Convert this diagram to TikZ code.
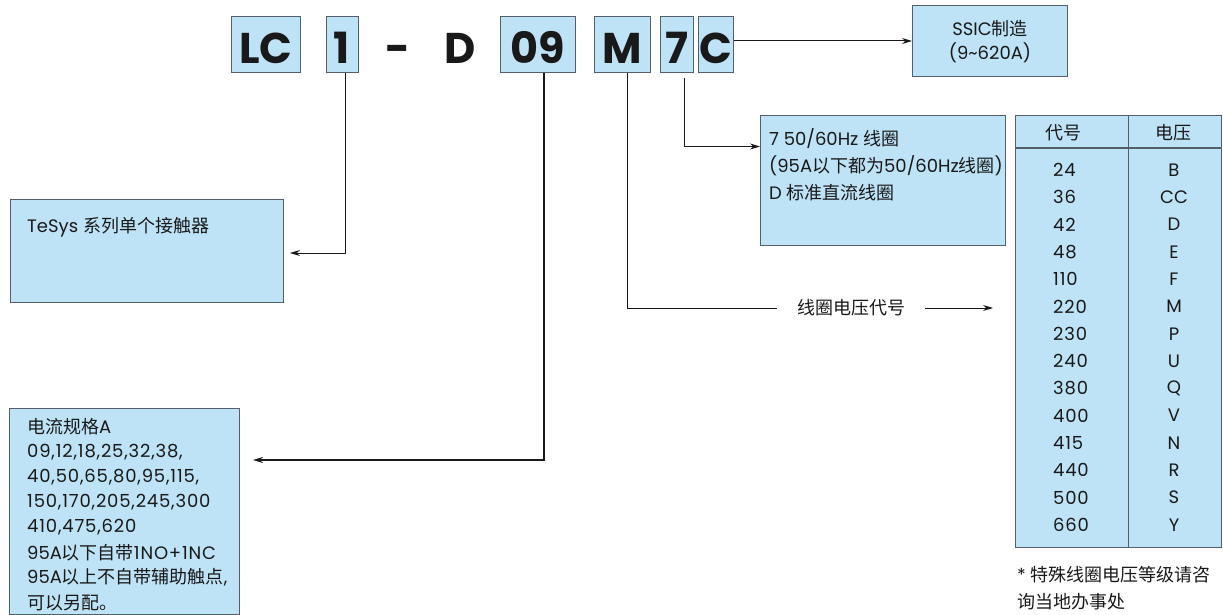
\documentclass[tikz,border=0pt]{standalone}
\usepackage{fontspec}
\setmainfont{Poppins}
\newfontfamily\numf{Poppins}[LetterSpace=4.5]
\newfontfamily\cjk{Noto Sans CJK SC}
\newcommand\zh[1]{{\cjk #1}}
\usetikzlibrary{arrows.meta}
\definecolor{boxfill}{RGB}{190,226,246}
\definecolor{boxline}{RGB}{85,95,105}
\definecolor{ink}{RGB}{25,25,25}
\tikzset{
  codebox/.style={draw=boxline, line width=1pt, fill=boxfill, minimum height=56pt,
    inner sep=0pt, text height=37.4pt, text depth=0pt, anchor=base,
    font=\fontsize{43}{43}\selectfont\bfseries, text=ink},
  codetext/.style={inner sep=0pt, anchor=base, font=\fontsize{43}{43}\selectfont\bfseries, text=ink},
  infobox/.style={draw=boxline, line width=1pt, fill=boxfill, inner sep=0pt, anchor=north west},
  txt/.style={inner sep=0pt, anchor=west, font=\fontsize{18}{21}\selectfont, text=ink},
  ntxt/.style={inner sep=0pt, anchor=west, font=\fontsize{18}{21}\numf, text=ink},
  ctxt/.style={inner sep=0pt, font=\fontsize{18}{21}\selectfont, text=ink},
  conn/.style={draw=ink, line width=1pt},
  arr/.style={conn, -{Stealth[length=10pt,width=6pt]}},
}
\begin{document}
\begin{tikzpicture}[x=1pt,y=-1pt]
\useasboundingbox (0,0) rectangle (1223,615);
% code letters
\node[codebox, minimum width=69pt] (LC) at (266,63.3) {LC};
\node[codebox, minimum width=32pt] (n1) at (342,63.3) {1};
\node[codetext] (dash) at (398,63.3) {-};
\node[codetext] (D) at (460,63.3) {D};
\node[codebox, minimum width=75pt] (n09) at (537.5,63.3) {09};
\node[codebox, minimum width=56pt] (M) at (622,63.3) {M};
\node[codebox, minimum width=33pt] (n7) at (676.5,63.3) {7};
\node[codebox, minimum width=35pt] (C) at (715.5,63.3) {C};
% SSIC box
\node[infobox, minimum width=155pt, minimum height=71pt] (ssic) at (912,5) {};
\node[ctxt] (ssic1) at (990,29) {SSIC\zh{制造}};
\node[ctxt] (ssic2) at (990,53) {(9\textasciitilde620A)};
\draw[arr] (C.east |- ssic.west) -- (ssic.west);
% TeSys box
\node[infobox, minimum width=273pt, minimum height=103pt] (tesys) at (10,199) {};
\node[txt] (tesyst) at (27,227) {TeSys \zh{系列单个接触器}};
\coordinate (t1) at (290,253);
\draw[arr] ([xshift=3pt]n1.south) |- (t1);
% current box
\node[infobox, minimum width=230pt, minimum height=206pt] (cur) at (9,408) {};
\node[txt] (c1) at (27,426.5) {\zh{电流规格}A};
\node[ntxt] (c2) at (27,451.7) {09,12,18,25,32,38,};
\node[ntxt] (c3) at (27,476.9) {40,50,65,80,95,115,};
\node[ntxt] (c4) at (27,502.1) {150,170,205,245,300};
\node[ntxt] (c5) at (27,527.3) {410,475,620};
\node[txt] (c6) at (27,552.5) {95A\zh{以下自带}{\numf 1NO+1NC}};
\node[txt] (c7) at (27,577.7) {95A\zh{以上不自带辅助触点},};
\node[txt] (c8) at (27,602.9) {\zh{可以另配。}};
\coordinate (t2) at (253,460);
\draw[arr, line width=2pt] ([xshift=6pt]n09.south) |- (t2);
% coil box
\node[infobox, minimum width=245pt, minimum height=130pt] (coil) at (760,115) {};
\node[txt] (k1) at (769,139) {7 50/60Hz \zh{线圈}};
\node[txt] (k2) at (769,166) {(95A\zh{以下都为}50/60Hz\zh{线圈})};
\node[txt] (k3) at (769,193) {D \zh{标准直流线圈}};
\draw[arr, shorten <=4.5pt] ([xshift=7.5pt]n7.south) |- ([yshift=34pt]coil.west);
% voltage code label
\node[ctxt, inner xsep=20pt] (lbl) at (851,308) {\zh{线圈电压代号}};
\coordinate (t3) at (993,308);
\draw[conn] ([xshift=5pt]M.south) |- (lbl.west);
\draw[arr] (lbl.east) -- (t3);
% table
\node[infobox, minimum width=206pt, minimum height=432pt] (tab) at (1015,115) {};
\draw[boxline, line width=1pt] (tab.north west |- 0,148) -- (tab.north east |- 0,148);
\draw[boxline, line width=1pt] (1128,115) -- (1128,547);
\node[ctxt] (h1) at (1063,133) {\zh{代号}};
\node[ctxt] (h2) at (1173,133) {\zh{电压}};
\foreach \a/\b [count=\i from 0] in {24/B,36/CC,42/D,48/E,110/F,220/M,230/P,240/U,380/Q,400/V,415/N,440/R,500/S,660/Y}{
  \node[ntxt] (l\i) at (1053,170+27.3*\i) {\a};
  \node[ctxt] (r\i) at (1174,170+27.3*\i) {\b};
}
\node[txt] (f1) at (1017,575) {* \zh{特殊线圈电压等级请咨}};
\node[txt] (f2) at (1017,602) {\zh{询当地办事处}};
\end{tikzpicture}
\end{document}
